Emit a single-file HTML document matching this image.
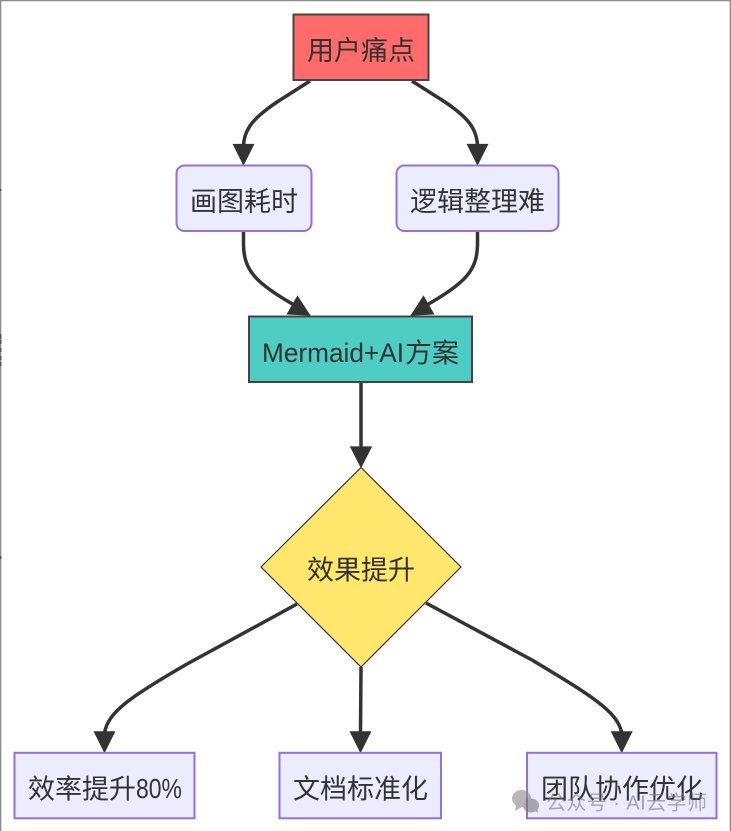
<!DOCTYPE html>
<html lang="zh">
<head>
<meta charset="utf-8">
<style>
html,body{margin:0;padding:0;background:#fff}
svg{display:block}
text{font-family:"Liberation Sans","Noto Sans CJK SC",sans-serif;font-size:27px;fill:#333;text-anchor:middle}
.s{text-anchor:start}
.e{fill:none;stroke:#333;stroke-width:3.5}
.a{fill:#333;stroke:#333;stroke-width:1.2}
.n{fill:#ECECFF;stroke:#9370DB;stroke-width:2}
.t{fill:#4ECDC4;stroke:#444;stroke-width:2}
</style>
</head>
<body>
<svg width="731" height="831" viewBox="0 0 731 831" xmlns="http://www.w3.org/2000/svg">
<rect width="731" height="831" fill="#fff"/>
<path d="M.6 831V.6H730.4V831" fill="none" stroke="#8c8c8c" stroke-width="1.4"/>
<g fill="#555">
<rect x="0" y="189" width="1.5" height="2"/><rect x="0" y="334" width="1.5" height="5"/><rect x="0" y="340" width="1.5" height="4"/><rect x="0" y="348" width="1.5" height="4"/><rect x="0" y="356" width="1.5" height="4"/><rect x="0" y="362" width="1.5" height="4"/><rect x="0" y="556" width="1.5" height="3"/>
</g>

<path class="e" d="M310,81 L277,102 C255,117 244,128 243.5,146"/>
<polygon class="a" points="233.5,144.5 253.5,144.5 243.5,164.5"/>
<path class="e" d="M412,81 L445,102 C467,117 477,128 477.5,146"/>
<polygon class="a" points="467.5,144.5 487.5,144.5 477.5,164.5"/>
<path class="e" d="M243.5,231 L243.5,245 C244,270 255,283 296,306"/>
<polygon class="a" points="297.5,296.5 287.5,314 309.5,315"/>
<path class="e" d="M477.5,231 L477.5,245 C477,270 466,283 425,306"/>
<polygon class="a" points="423.5,296.5 433.5,314 411.5,315"/>
<path class="e" d="M361,382 L361,448"/>
<polygon class="a" points="350.8,447 371.2,447 361,467"/>
<path class="e" d="M297,604 L187,664 C130,697 108,712 104.5,733"/>
<polygon class="a" points="94.5,731.8 114.5,731.8 104.5,752"/>
<path class="e" d="M361,667 L360.5,733"/>
<polygon class="a" points="350.5,731.8 370.5,731.8 360.5,752"/>
<path class="e" d="M426,603 L532,660 C592,696 618,712 621.7,733"/>
<polygon class="a" points="611.7,731.8 631.7,731.8 621.7,752"/>

<rect class="t" x="293.5" y="14.5" width="135" height="65.5" style="fill:#FF6B6B"/>
<text x="361" y="60">用户痛点</text>
<rect class="n" x="176.5" y="165.5" width="135" height="65.5" rx="8" ry="8"/>
<text x="244" y="211">画图耗时</text>
<rect class="n" x="396.5" y="165.5" width="162" height="65.5" rx="8" ry="8"/>
<text x="477.5" y="211">逻辑整理难</text>
<rect class="t" x="249" y="316.5" width="223" height="65.5"/>
<text class="s" x="262" y="362" style="font-size:27px" textLength="142" lengthAdjust="spacingAndGlyphs">Mermaid+AI</text>
<text class="s" x="405" y="362.5">方案</text>
<polygon points="361,467.5 461,567 361,667 261,567" fill="#FFE66D" stroke="#333" stroke-width="1.2"/>
<text x="361" y="579.5">效果提升</text>
<rect class="n" x="14.5" y="752.8" width="180" height="65.5"/>
<text class="s" x="28" y="798.5">效率提升</text>
<text class="s" x="136" y="798" style="font-size:27.5px" textLength="46" lengthAdjust="spacingAndGlyphs">80%</text>
<rect class="n" x="279.5" y="752.8" width="161.5" height="65.5"/>
<text x="360.5" y="798.5">文档标准化</text>
<rect class="n" x="527" y="752.8" width="189.5" height="65.5"/>
<text x="622" y="798.5">团队协作优化</text>

<g opacity=".6">
<ellipse cx="521.5" cy="798.5" rx="9.5" ry="8.5" fill="#888"/>
<polygon points="516,805 515,811 522,807" fill="#888"/>
<ellipse cx="531" cy="805.5" rx="8" ry="7" fill="#777"/>
<polygon points="534,810 538,813 537,807" fill="#777"/>
<text class="s" x="546" y="809.5" style="font-size:20px;fill:#777" textLength="161" lengthAdjust="spacing">公众号 · AI云学师</text>
</g>
</svg>
</body>
</html>
